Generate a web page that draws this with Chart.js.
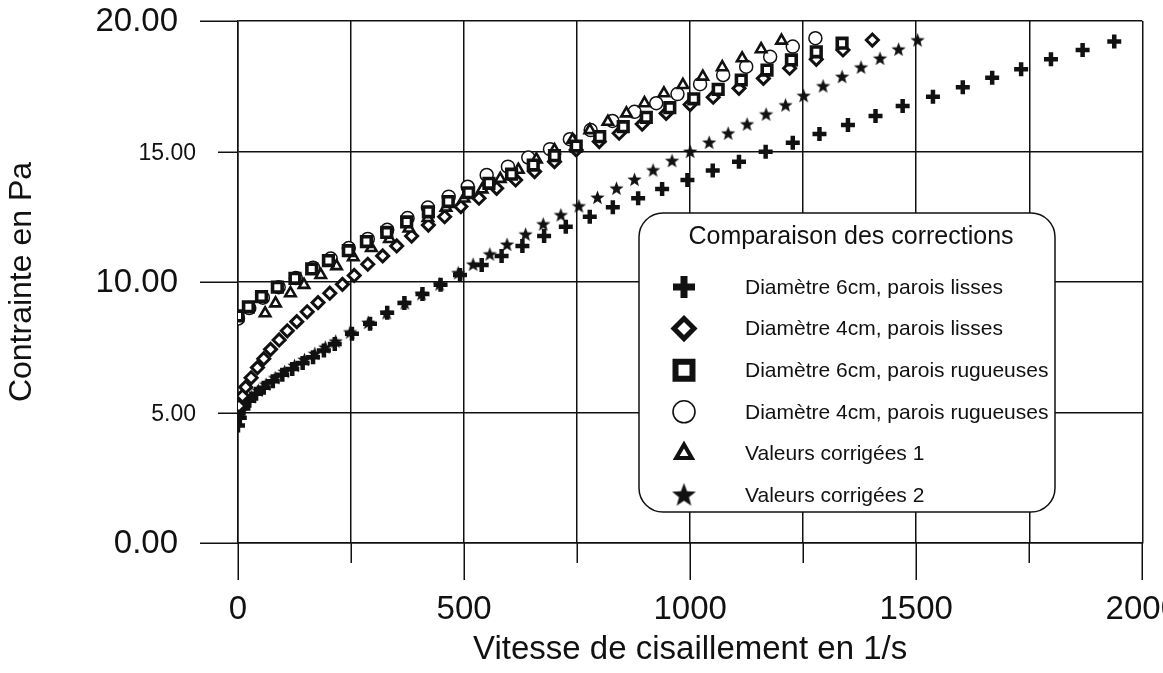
<!DOCTYPE html>
<html>
<head>
<meta charset="utf-8">
<script src="https://cdn.jsdelivr.net/npm/chart.js@4.4.1/dist/chart.umd.min.js"></script>
<style>
  html, body { margin: 0; padding: 0; background: #fff; overflow: hidden; width: 1163px; height: 673px; }
  #wrap { position: absolute; left: 0; top: 0; width: 1226px; height: 673px; }
</style>
</head>
<body>
<div id="wrap"><canvas id="c"></canvas></div>
<script>
// Shear rate (1/s) and stress (Pa) per measurement series
const lisse6X = [0, 4, 12, 25, 40, 57, 77, 98, 120, 143, 166, 190, 214, 252, 292, 330, 368, 408, 448, 491, 539, 583, 629, 677, 725, 778, 829, 885, 938, 994, 1050, 1108, 1167, 1227, 1286, 1349, 1410, 1470, 1537, 1603, 1668, 1732, 1798, 1868, 1938];
const lisse6Y = [4.5, 4.8, 5.15, 5.45, 5.72, 5.95, 6.2, 6.45, 6.67, 6.9, 7.12, 7.38, 7.62, 8.02, 8.4, 8.82, 9.2, 9.54, 9.89, 10.27, 10.65, 11.0, 11.38, 11.76, 12.12, 12.5, 12.86, 13.21, 13.56, 13.91, 14.27, 14.61, 14.99, 15.34, 15.67, 16.02, 16.36, 16.74, 17.1, 17.46, 17.83, 18.15, 18.53, 18.89, 19.21];

const lisse4X = [2, 10, 17, 29, 43, 57, 72, 91, 109, 130, 153, 177, 203, 231, 257, 287, 320, 351, 384, 421, 457, 493, 533, 572, 614, 656, 700, 748, 799, 843, 894, 947, 1000, 1051, 1108, 1162, 1220, 1279, 1338, 1403];
const lisse4Y = [5.25, 5.63, 5.97, 6.33, 6.72, 7.06, 7.42, 7.78, 8.13, 8.48, 8.86, 9.21, 9.57, 9.91, 10.25, 10.68, 11.0, 11.38, 11.76, 12.18, 12.5, 12.89, 13.21, 13.59, 13.91, 14.23, 14.61, 15.06, 15.38, 15.7, 16.05, 16.46, 16.8, 17.08, 17.42, 17.8, 18.19, 18.53, 18.89, 19.27];

const rug6X = [0, 23, 52, 87, 126, 163, 200, 244, 284, 329, 373, 421, 465, 510, 555, 605, 653, 700, 748, 800, 852, 903, 955, 1008, 1062, 1113, 1170, 1224, 1279, 1336];
const rug6Y = [8.7, 9.05, 9.44, 9.8, 10.14, 10.5, 10.82, 11.2, 11.55, 11.9, 12.3, 12.69, 13.08, 13.42, 13.78, 14.13, 14.48, 14.84, 15.21, 15.57, 15.95, 16.31, 16.68, 17.02, 17.38, 17.74, 18.12, 18.51, 18.82, 19.15];

const rug4X = [0, 25, 55, 90, 128, 166, 205, 245, 287, 330, 375, 420, 466, 508, 550, 597, 642, 690, 734, 780, 828, 877, 925, 972, 1022, 1073, 1124, 1177, 1227, 1277];
const rug4Y = [8.6, 9.0, 9.4, 9.8, 10.15, 10.55, 10.9, 11.3, 11.65, 12.0, 12.45, 12.85, 13.27, 13.65, 14.1, 14.42, 14.77, 15.09, 15.47, 15.82, 16.17, 16.52, 16.85, 17.2, 17.58, 17.93, 18.25, 18.63, 19.02, 19.34];

const corr1X = [60, 83, 116, 146, 183, 218, 255, 295, 335, 378, 420, 460, 500, 540, 580, 620, 660, 700, 740, 778, 818, 859, 899, 942, 984, 1028, 1071, 1115, 1157, 1202];
const corr1Y = [8.8, 9.18, 9.57, 9.89, 10.27, 10.61, 10.95, 11.3, 11.65, 12.05, 12.45, 12.85, 13.2, 13.55, 13.95, 14.3, 14.7, 15.05, 15.45, 15.82, 16.14, 16.46, 16.85, 17.23, 17.55, 17.87, 18.23, 18.57, 18.92, 19.25];

const corr2X = [0, 6, 17, 30, 45, 62, 82, 103, 125, 147, 170, 193, 216, 248, 288, 329, 369, 406, 446, 487, 520, 557, 595, 636, 675, 714, 754, 795, 837, 877, 918, 960, 1000, 1042, 1084, 1126, 1168, 1211, 1251, 1294, 1336, 1378, 1420, 1461, 1503];
const corr2Y = [4.75, 5.05, 5.35, 5.6, 5.85, 6.08, 6.33, 6.57, 6.8, 7.03, 7.26, 7.5, 7.73, 8.08, 8.45, 8.82, 9.2, 9.55, 9.92, 10.35, 10.68, 11.07, 11.44, 11.83, 12.22, 12.57, 12.91, 13.24, 13.59, 13.93, 14.29, 14.65, 15.0, 15.35, 15.7, 16.05, 16.43, 16.78, 17.14, 17.51, 17.87, 18.23, 18.57, 18.92, 19.27];

const seriesLabels = [
  'Diamètre 6cm, parois lisses',
  'Diamètre 4cm, parois lisses',
  'Diamètre 6cm, parois rugueuses',
  'Diamètre 4cm, parois rugueuses',
  'Valeurs corrigées 1',
  'Valeurs corrigées 2'
];

const xTickValues = [0, 500, 1000, 1500, 2000];
const xTickLabels = ['0', '500', '1000', '1500', '2000'];
const yTickValues = [0, 5, 10, 15, 20];
const yTickLabels = ['0.00', '5.00', '10.00', '15.00', '20.00'];

const legendTitle = 'Comparaison des corrections';
const xTitle = 'Vitesse de cisaillement en 1/s';
const yTitle = 'Contrainte en Pa';

// ---- drawing setup ----
const INK = '#111';
const PAPER = '#fff';
const FONT = "'Liberation Sans', Arial, Helvetica, sans-serif";

function pts(xs, ys) { return xs.map((x, i) => ({ x: x, y: ys[i] })); }

// filled five-pointed star used as a point image
function starCanvas(R) {
  const s = Math.ceil(R * 2 + 2);
  const c = document.createElement('canvas');
  c.width = s; c.height = s;
  const g = c.getContext('2d');
  g.fillStyle = INK;
  g.beginPath();
  for (let i = 0; i < 10; i++) {
    const r = (i % 2) ? R * 0.42 : R;
    const a = -Math.PI / 2 + i * Math.PI / 5;
    g.lineTo(s / 2 + r * Math.cos(a), s / 2 + 0.6 + r * Math.sin(a));
  }
  g.closePath();
  g.fill();
  return c;
}
const starSmall = starCanvas(7.5);
const starBig = starCanvas(12.5);

// marker look in the plot and in the legend box
const markers = [
  { plot: { pointStyle: 'cross', radius: 7, borderWidth: 4.5, fill: INK },
    legend: { pointStyle: 'cross', radius: 11, borderWidth: 7, fill: INK } },
  { plot: { pointStyle: 'rectRot', radius: 6, borderWidth: 3, fill: PAPER },
    legend: { pointStyle: 'rectRot', radius: 10, borderWidth: 5, fill: PAPER } },
  { plot: { pointStyle: 'rect', radius: 6.8, borderWidth: 3.6, fill: PAPER },
    legend: { pointStyle: 'rect', radius: 12, borderWidth: 6, fill: PAPER } },
  { plot: { pointStyle: 'circle', radius: 6.5, borderWidth: 1.5, fill: PAPER },
    legend: { pointStyle: 'circle', radius: 11, borderWidth: 1.6, fill: PAPER } },
  { plot: { pointStyle: 'triangle', radius: 6, borderWidth: 2.6, fill: PAPER },
    legend: { pointStyle: 'triangle', radius: 9, borderWidth: 4, fill: PAPER } },
  { plot: { pointStyle: starSmall, radius: 7, borderWidth: 0, fill: INK },
    legend: { pointStyle: starBig, radius: 12, borderWidth: 0, fill: INK } }
];

const seriesData = [
  pts(lisse6X, lisse6Y),
  pts(lisse4X, lisse4Y),
  pts(rug6X, rug6Y),
  pts(rug4X, rug4Y),
  pts(corr1X, corr1Y),
  pts(corr2X, corr2Y)
];
// lower order is painted on top
const drawOrder = [5, 3, 0, 2, 1, 4];

const datasets = seriesData.map((d, i) => ({
  label: seriesLabels[i],
  data: d,
  showLine: false,
  order: drawOrder[i],
  pointStyle: markers[i].plot.pointStyle,
  pointRadius: markers[i].plot.radius,
  pointHoverRadius: markers[i].plot.radius,
  pointBorderWidth: markers[i].plot.borderWidth,
  pointHoverBorderWidth: markers[i].plot.borderWidth,
  pointBorderColor: INK,
  pointBackgroundColor: markers[i].plot.fill,
  borderColor: INK,
  backgroundColor: markers[i].plot.fill
}));

function strokeLine(ctx, x1, y1, x2, y2) {
  ctx.beginPath(); ctx.moveTo(x1, y1); ctx.lineTo(x2, y2); ctx.stroke();
}

// outer tick marks (long at labelled values, short in between) and y labels
const axisMarks = {
  id: 'axisMarks',
  afterDraw(chart) {
    const ctx = chart.ctx, a = chart.chartArea;
    const xs = chart.scales.x, ys = chart.scales.y;
    ctx.save();
    ctx.strokeStyle = INK;
    ctx.lineWidth = 1.5;
    xs.ticks.forEach(t => {
      const px = Math.round(xs.getPixelForValue(t.value)) + 0.25;
      const len = xTickValues.includes(t.value) ? 37 : 20;
      strokeLine(ctx, px, a.bottom, px, a.bottom + len);
    });
    ctx.fillStyle = INK;
    ctx.textAlign = 'right';
    ctx.textBaseline = 'middle';
    ys.ticks.forEach(t => {
      const py = Math.round(ys.getPixelForValue(t.value)) + 0.25;
      const major = t.value % 10 === 0;
      const len = major ? 38 : 20;
      strokeLine(ctx, a.left - len, py, a.left, py);
      const k = yTickValues.indexOf(t.value);
      if (k >= 0) {
        ctx.font = (major ? 33 : 23) + 'px ' + FONT;
        ctx.fillText(yTickLabels[k], a.left - len - 22, py + 1);
      }
    });
    ctx.restore();
  }
};

// rounded legend box with title, drawn over the grid
const legendBox = {
  id: 'legendBox',
  afterDatasetsDraw(chart) {
    const ctx = chart.ctx;
    const L = 639, T = 213, W = 416, H = 299, R = 24;
    ctx.save();
    ctx.beginPath();
    ctx.moveTo(L + R, T);
    ctx.lineTo(L + W - R, T);
    ctx.arcTo(L + W, T, L + W, T + R, R);
    ctx.lineTo(L + W, T + H - R);
    ctx.arcTo(L + W, T + H, L + W - R, T + H, R);
    ctx.lineTo(L + R, T + H);
    ctx.arcTo(L, T + H, L, T + H - R, R);
    ctx.lineTo(L, T + R);
    ctx.arcTo(L, T, L + R, T, R);
    ctx.closePath();
    ctx.fillStyle = PAPER;
    ctx.fill();
    ctx.lineWidth = 1.5;
    ctx.strokeStyle = INK;
    ctx.stroke();

    ctx.fillStyle = INK;
    ctx.textAlign = 'center';
    ctx.textBaseline = 'middle';
    ctx.font = '25px ' + FONT;
    ctx.fillText(legendTitle, L + 212, T + 24);

    ctx.font = '21px ' + FONT;
    ctx.textAlign = 'left';
    chart.data.datasets.forEach((ds, i) => {
      const y = 287 + i * 41.6;
      const m = markers[i].legend;
      ctx.save();
      ctx.fillStyle = m.fill;
      ctx.strokeStyle = INK;
      ctx.lineWidth = m.borderWidth;
      Chart.helpers.drawPoint(ctx, { pointStyle: m.pointStyle, radius: m.radius, rotation: 0, borderWidth: m.borderWidth }, 684, y);
      ctx.restore();
      ctx.fillStyle = INK;
      ctx.fillText(ds.label, 745, y + 1);
    });
    ctx.restore();
  }
};

new Chart(document.getElementById('c'), {
  type: 'scatter',
  data: { datasets: datasets },
  plugins: [axisMarks, legendBox],
  options: {
    responsive: true,
    maintainAspectRatio: false,
    animation: false,
    devicePixelRatio: 1,
    events: [],
    layout: { padding: { top: 21, right: 0, bottom: 0, left: 0 } },
    plugins: { legend: { display: false }, tooltip: { enabled: false } },
    scales: {
      x: {
        type: 'linear', min: 0, max: 2000,
        afterFit(s) { s.height = 130; },
        ticks: {
          stepSize: 250, autoSkip: false, maxRotation: 0, padding: 47,
          color: INK, font: { family: FONT, size: 33 },
          callback(v) { const k = xTickValues.indexOf(v); return k >= 0 ? xTickLabels[k] : ''; }
        },
        grid: { color: INK, lineWidth: 1.5, drawTicks: false },
        border: { display: true, color: INK, width: 1.5 },
        title: { display: true, text: xTitle, color: INK, font: { family: FONT, size: 33 }, padding: { top: 0, bottom: 3 } }
      },
      y: {
        type: 'linear', min: 0, max: 20,
        afterFit(s) { s.width = 238; },
        ticks: { stepSize: 5, display: false },
        grid: { color: INK, lineWidth: 1.5, drawTicks: false },
        border: { display: true, color: INK, width: 1.5 },
        title: { display: true, text: yTitle, color: INK, font: { family: FONT, size: 32 }, padding: { top: 3, bottom: 0 } }
      }
    }
  }
});
</script>
</body>
</html>
